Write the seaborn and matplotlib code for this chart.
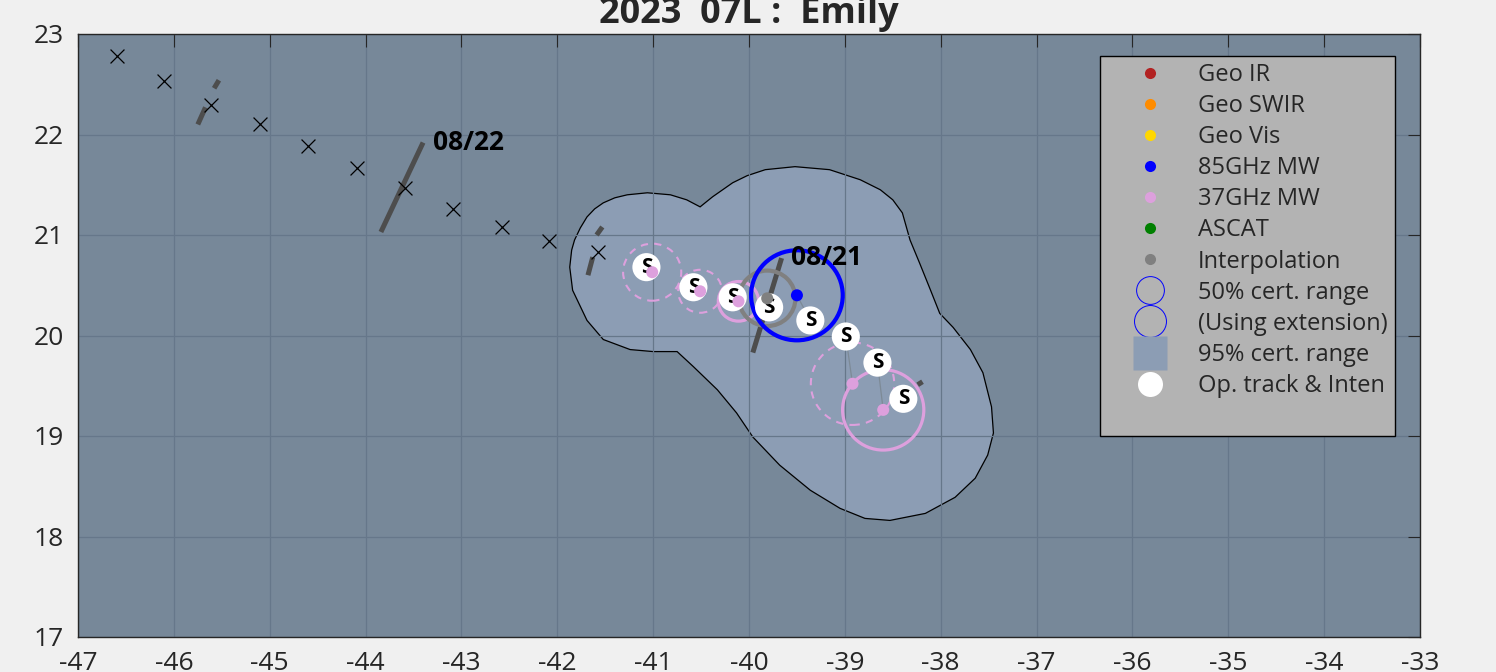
import numpy as np
import pandas as pd
import matplotlib
matplotlib.use("Agg")
import matplotlib.pyplot as plt
from matplotlib.lines import Line2D
from matplotlib.patches import Polygon, Ellipse
import seaborn as sns

# forecast track (black crosses)
fcst_lon = [-46.59, -46.10, -45.61, -45.10, -44.60, -44.09, -43.59, -43.09, -42.58, -42.09, -41.58]
fcst_lat = [22.78, 22.53, 22.29, 22.10, 21.89, 21.67, 21.47, 21.26, 21.08, 20.94, 20.83]

# operational track & intensity
op_lon = [-41.07, -40.58, -40.17, -39.79, -39.36, -38.99, -38.66, -38.39]
op_lat = [20.68, 20.48, 20.38, 20.28, 20.15, 19.99, 19.73, 19.37]
op_inten = ["S", "S", "S", "S", "S", "S", "S", "S"]

# center fixes
fix_type = ["37GHz MW", "37GHz MW", "37GHz MW", "Interpolation", "85GHz MW", "37GHz MW", "37GHz MW"]
fix_lon = [-41.01, -40.51, -40.11, -39.81, -39.50, -38.92, -38.60]
fix_lat = [20.63, 20.44, 20.34, 20.37, 20.40, 19.52, 19.26]
fix_r50 = [0.284, 0.214, 0.197, 0.276, 0.448, 0.41, 0.40]
fix_ext = [True, True, False, False, False, True, False]
fix_op = [0, 1, 2, 3, 4, 5, 6]

# 95% certainty region outline
reg_lon = [-41.87, -41.85, -41.82, -41.76, -41.69, -41.61, -41.52, -41.40, -41.27, -41.06,
           -40.82, -40.65, -40.51, -40.38, -40.17, -40.02, -39.83, -39.52, -39.16, -38.84,
           -38.63, -38.50, -38.40, -38.32, -38.22, -38.11, -38.01, -37.87, -37.69, -37.56, -37.47,
           -37.45, -37.51, -37.64, -37.85, -38.16, -38.53, -38.79, -39.05, -39.36, -39.68,
           -39.96, -40.13, -40.33, -40.58, -40.75, -41.00, -41.24, -41.52, -41.69, -41.84]
reg_lat = [20.68, 20.85, 20.95, 21.07, 21.18, 21.26, 21.32, 21.37, 21.40, 21.42,
           21.40, 21.35, 21.28, 21.38, 21.52, 21.59, 21.65, 21.68, 21.65, 21.55,
           21.45, 21.35, 21.22, 20.95, 20.72, 20.46, 20.22, 20.08, 19.86, 19.63, 19.29,
           19.03, 18.81, 18.58, 18.39, 18.23, 18.16, 18.18, 18.28, 18.46, 18.71,
           18.99, 19.23, 19.46, 19.69, 19.84, 19.84, 19.86, 19.96, 20.15, 20.45]

# scatterometer swath pieces
swath_lon = [(-45.75, -45.67), (-45.58, -45.53), (-43.84, -43.40), (-41.68, -41.63),
             (-41.59, -41.53), (-39.96, -39.66), (-38.24, -38.19)]
swath_lat = [(22.10, 22.27), (22.46, 22.54), (21.03, 21.92), (20.60, 20.78),
             (21.00, 21.08), (19.83, 20.77), (19.51, 19.54)]

date_text = ["08/22", "08/21"]
date_lon = [-43.30, -39.56]
date_lat = [21.92, 20.78]

type_colors = {"Geo IR": "#b22222", "Geo SWIR": "#ff8c00", "Geo Vis": "#ffd700",
               "85GHz MW": "#0000ff", "37GHz MW": "#dda0dd", "ASCAT": "#008000",
               "Interpolation": "#808080"}

sns.set_style("white")
plt.rcParams["font.family"] = ["Open Sans", "Noto Sans", "DejaVu Sans"]
plt.rcParams["axes.unicode_minus"] = False

fig = plt.figure(figsize=(14.96, 6.72), dpi=100, facecolor="#f0f0f0")
ax = fig.add_axes([78 / 1496, 35 / 672, 1342 / 1496, 603 / 672])
ax.set_facecolor("#778899")

ax.add_patch(Polygon(np.column_stack([reg_lon, reg_lat]), closed=True,
                     facecolor="#8c9db4", edgecolor="black", lw=0.9, zorder=1))

ax.set_axisbelow("line")
ax.grid(True, color="#66778a", lw=0.9)

for lo, la in zip(swath_lon, swath_lat):
    ax.plot(lo, la, color="#4d4d4d", lw=3.6, solid_capstyle="butt", zorder=2)

sns.scatterplot(x=fcst_lon, y=fcst_lat, marker="x", color="black", s=100,
                linewidth=0.9, ax=ax, zorder=2, legend=False)

# certainty circles
for lo, la, r, ext, t in zip(fix_lon, fix_lat, fix_r50, fix_ext, fix_type):
    c = type_colors[t]
    w = 2 * r / np.cos(np.radians(la))
    if ext:
        e = Ellipse((lo, la), w, 2 * r, fill=False, edgecolor=c, lw=1.5,
                    linestyle=(0, (3.5, 3)), zorder=3)
    else:
        e = Ellipse((lo, la), w, 2 * r, fill=False, edgecolor=c,
                    lw=3.0 if t != "37GHz MW" else 2.3, zorder=3)
    ax.add_patch(e)

# fix -> op track links
for lo, la, k in zip(fix_lon, fix_lat, fix_op):
    ax.plot([lo, op_lon[k]], [la, op_lat[k]], color="#7d8a96", lw=0.9, zorder=3.5)

sns.scatterplot(x=op_lon, y=op_lat, color="white", s=410, edgecolor="none",
                ax=ax, zorder=5, legend=False)
for lo, la, s in zip(op_lon, op_lat, op_inten):
    ax.text(lo, la, s, ha="center", va="center", fontsize=15, fontweight="bold",
            color="black", zorder=6)

fix_df = pd.DataFrame({"lon": fix_lon, "lat": fix_lat, "type": fix_type})
sns.scatterplot(data=fix_df, x="lon", y="lat", hue="type", palette=type_colors,
                s=75, edgecolor="none", ax=ax, zorder=7, legend=False)

for t, lo, la in zip(date_text, date_lon, date_lat):
    ax.text(lo, la, t, ha="left", va="center", fontsize=19, fontweight="bold",
            color="black", zorder=8)

ax.set_xlim(-47, -33)
ax.set_ylim(17, 23)
ax.set_xticks(range(-47, -32))
ax.set_yticks(range(17, 24))
ax.set_xlabel("")
ax.set_ylabel("")
ax.tick_params(direction="in", length=9, width=0.8, color="#262626",
               top=True, right=True, labelsize=19, pad=10, labelcolor="#262626")
for sp in ax.spines.values():
    sp.set_color("#262626")
    sp.set_linewidth(1.0)

ax.set_title("2023  07L :  Emily", fontsize=26, fontweight="bold", pad=8)

handles = [Line2D([], [], ls="none", marker="o", ms=8, mfc=type_colors[k], mec="none")
           for k in ["Geo IR", "Geo SWIR", "Geo Vis", "85GHz MW", "37GHz MW", "ASCAT", "Interpolation"]]
handles += [Line2D([], [], ls="none", marker="o", ms=20, mfc="none", mec="#0000ff", mew=0.7),
            Line2D([], [], ls="none", marker="o", ms=23, mfc="none", mec="#0000ff", mew=0.7),
            Line2D([], [], ls="none", marker="s", ms=24, mfc="#8c9db4", mec="none"),
            Line2D([], [], ls="none", marker="o", ms=18, mfc="white", mec="none"),
            Line2D([], [], ls="none")]
labels = ["Geo IR", "Geo SWIR", "Geo Vis", "85GHz MW", "37GHz MW", "ASCAT", "Interpolation",
          "50% cert. range", "(Using extension)", "95% cert. range", "Op. track & Inten", " "]
leg = ax.legend(handles, labels, loc="upper left", bbox_to_anchor=(1100 / 1496, 1 - 56 / 672),
                bbox_transform=fig.transFigure, borderaxespad=0, fontsize=17,
                frameon=True, fancybox=False, facecolor="#b3b3b3", edgecolor="black",
                framealpha=1, borderpad=0.3, handlelength=3.6, handletextpad=0.25,
                labelspacing=0.3)
leg.get_frame().set_linewidth(1.0)
leg.set_zorder(10)

fig.savefig("out.png", dpi=100, facecolor=fig.get_facecolor())
